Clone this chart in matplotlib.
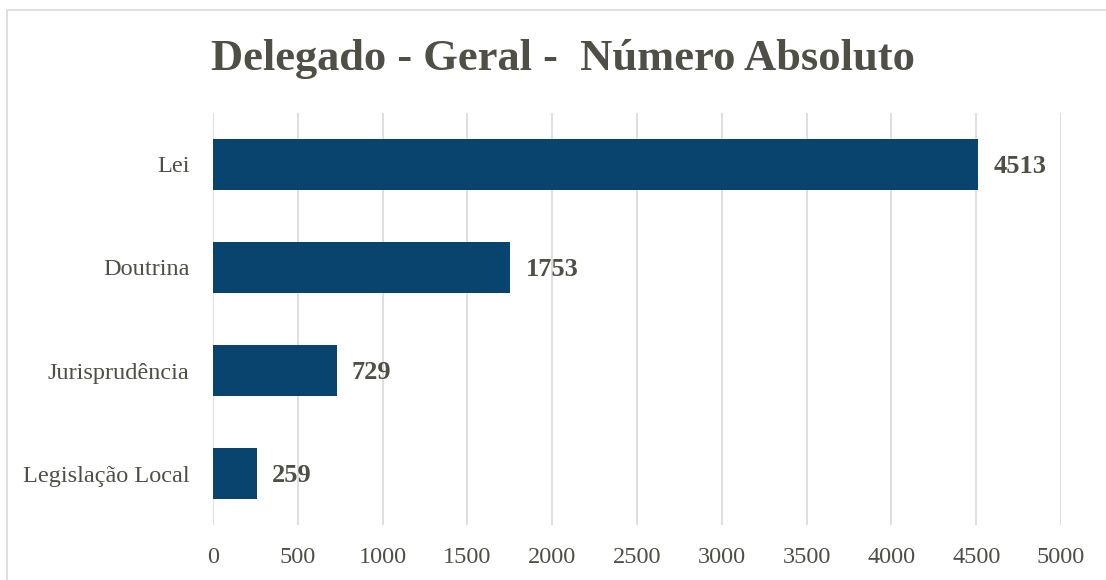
import matplotlib.pyplot as plt
from matplotlib.patches import Rectangle

categories = ["Lei", "Doutrina", "Jurisprudência", "Legislação Local"]
values = [4513, 1753, 729, 259]
xticks = [0, 500, 1000, 1500, 2000, 2500, 3000, 3500, 4000, 4500, 5000]

text_color = "#4f4f46"
bar_color = "#08446e"
font = ["Liberation Serif", "DejaVu Serif"]

fig = plt.figure(figsize=(11.06, 5.8), dpi=100)
ax = fig.add_axes([0.1926, 0.0948, 0.7667, 0.7104])

ypos = list(range(len(categories)))
ax.barh(ypos, values, height=0.5, color=bar_color, zorder=3)
for y, v in zip(ypos, values):
    ax.text(v + 90, y + 0.02, str(v), va="center", ha="left", fontsize=19,
            fontweight="bold", color=text_color, family=font)

ax.set_ylim(3.5, -0.5)
ax.set_xlim(0, 5000)
ax.set_yticks(ypos)
ax.set_yticklabels(categories, family=font, fontsize=17.5, color=text_color)
ax.set_xticks(xticks)
ax.set_xticklabels([str(t) for t in xticks], family=font, fontsize=17.5, color=text_color)
ax.tick_params(length=0)
ax.tick_params(axis="x", pad=16)
ax.tick_params(axis="y", pad=17)
ax.grid(axis="x", color="#d9d9d9", linewidth=1.2, zorder=0)
for s in ax.spines.values():
    s.set_visible(False)

fig.text(0.509, 0.899, "Delegado - Geral -  Número Absoluto", ha="center", va="center",
         fontsize=32, fontweight="bold", color=text_color, family=font)

# light frame of the chart area
fig.patches.append(Rectangle((0.006, -0.01), 1.2, 0.993, transform=fig.transFigure,
                             fill=False, edgecolor="#d9d9d9", linewidth=1.2))

fig.savefig("out.png", dpi=100)
